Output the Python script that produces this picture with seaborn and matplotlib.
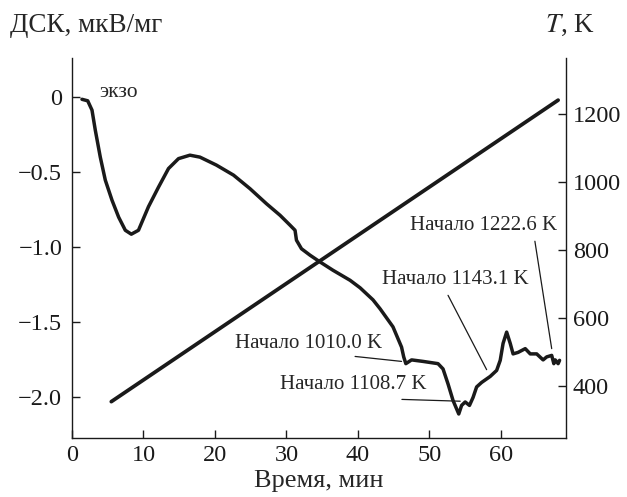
import matplotlib
matplotlib.use("Agg")
import matplotlib.pyplot as plt
import seaborn as sns
import pandas as pd

# DSC curve (time, min -> DSC, uV/mg)
dsc_time = [1.4, 2.2, 2.8, 3.26, 3.96, 4.66, 5.6, 6.53, 7.46, 8.3, 9.3, 10.7, 12.1, 13.5,
            14.9, 16.5, 17.9, 20.2, 22.6, 24.9, 27.2, 29.1, 30.5, 31.2, 31.4, 32.1, 33.3,
            34.7, 36.5, 38.9, 40.3, 42.1, 43.1, 44.9, 46.1, 46.4, 46.7, 47.5, 49.1, 51.2,
            51.9, 52.6, 53.3, 53.7, 54.1, 54.5, 55.0, 55.6, 56.1, 56.6, 57.3, 58.5, 59.4,
            59.9, 60.3, 60.8, 61.3, 61.7, 62.4, 63.4, 64.1, 65.0, 65.9, 66.4, 67.1, 67.4,
            67.6, 68.0, 68.2]
dsc_vals = [-0.015, -0.025, -0.087, -0.22, -0.40, -0.553, -0.687, -0.80, -0.887, -0.913,
            -0.887, -0.73, -0.60, -0.476, -0.41, -0.387, -0.40, -0.453, -0.52, -0.61, -0.71,
            -0.787, -0.853, -0.887, -0.953, -1.01, -1.053, -1.098, -1.153, -1.22, -1.27,
            -1.35, -1.41, -1.53, -1.665, -1.73, -1.775, -1.75, -1.76, -1.775, -1.81, -1.91,
            -2.02, -2.065, -2.11, -2.053, -2.03, -2.053, -2.0, -1.93, -1.9, -1.86, -1.82,
            -1.753, -1.64, -1.565, -1.64, -1.71, -1.70, -1.675, -1.71, -1.71, -1.75, -1.73,
            -1.72, -1.775, -1.75, -1.775, -1.753]

# Temperature line (time, min -> T, K)
temp_time = [5.5, 68.0]
temp_vals = [354, 1241]

x_ticks = [0, 10, 20, 30, 40, 50, 60]
left_ticks = [0, -0.5, -1.0, -1.5, -2.0]
left_labels = ["0", "\u22120.5", "\u22121.0", "\u22121.5", "\u22122.0"]
right_ticks = [400, 600, 800, 1000, 1200]

annot_texts = ["Начало 1010.0 K", "Начало 1108.7 K", "Начало 1143.1 K", "Начало 1222.6 K"]
annot_text_xy = [(22.8, -1.64), (29.1, -1.913), (43.4, -1.213), (47.3, -0.853)]
annot_line_from = [(39.6, -1.727), (46.15, -2.013), (52.6, -1.32), (64.75, -0.96)]
annot_line_to = [(46.1, -1.76), (54.3, -2.025), (58.0, -1.815), (67.1, -1.675)]

sns.set_style("ticks")
plt.rcParams["font.family"] = ["Liberation Serif", "DejaVu Serif"]
plt.rcParams["mathtext.fontset"] = "stix"

fig = plt.figure(figsize=(6.27, 4.97), dpi=100)
ax = fig.add_axes([0.1148, 0.1187, 0.7879, 0.7646])
ax2 = ax.twinx()

df_dsc = pd.DataFrame({"t": dsc_time, "v": dsc_vals})
df_T = pd.DataFrame({"t": temp_time, "T": temp_vals})
sns.lineplot(data=df_dsc, x="t", y="v", ax=ax, color="#1a1a1a", lw=2.5, sort=False,
             solid_joinstyle="round", solid_capstyle="round")
sns.lineplot(data=df_T, x="t", y="T", ax=ax2, color="#1a1a1a", lw=2.7)

ax.set_xlim(0, 69.1)
ax.set_ylim(-2.27, 0.26)
ax2.set_ylim(247, 1365)

ax.set_xticks(x_ticks)
ax.set_yticks(left_ticks)
ax.set_yticklabels(left_labels)
ax2.set_yticks(right_ticks)
for a in (ax, ax2):
    a.tick_params(direction="in", length=6, width=1, labelsize=17.5, colors="#1a1a1a")
    a.spines["top"].set_visible(False)
    for s in a.spines.values():
        s.set_linewidth(1)
        s.set_color("#1a1a1a")
ax.tick_params(axis="x", pad=5)
ax.tick_params(axis="y", pad=7)
ax2.tick_params(axis="y", pad=5)
ax.spines["right"].set_visible(False)
ax2.spines["left"].set_visible(False)
ax2.spines["bottom"].set_visible(False)

ax.set_ylabel("")
ax2.set_ylabel("")
ax.set_xlabel("Время, мин", fontsize=19, labelpad=3)
fig.text(10 / 627, 1 - 25 / 497, "ДСК, мкВ/мг", fontsize=19.5, va="center", ha="left")
fig.text(545 / 627, 1 - 25 / 497, "$T$, K", fontsize=19.5, va="center", ha="left")

ax.text(3.8, 0.033, "экзо", fontsize=15.5, va="center", ha="left")

for txt, txy, p0, p1 in zip(annot_texts, annot_text_xy, annot_line_from, annot_line_to):
    ax.text(txy[0], txy[1], txt, fontsize=15, ha="left", va="center")
    ax.annotate("", xy=p1, xytext=p0,
                arrowprops=dict(arrowstyle="-", color="#1a1a1a", lw=0.9, shrinkA=0, shrinkB=0))

fig.savefig("out.png", dpi=100)
